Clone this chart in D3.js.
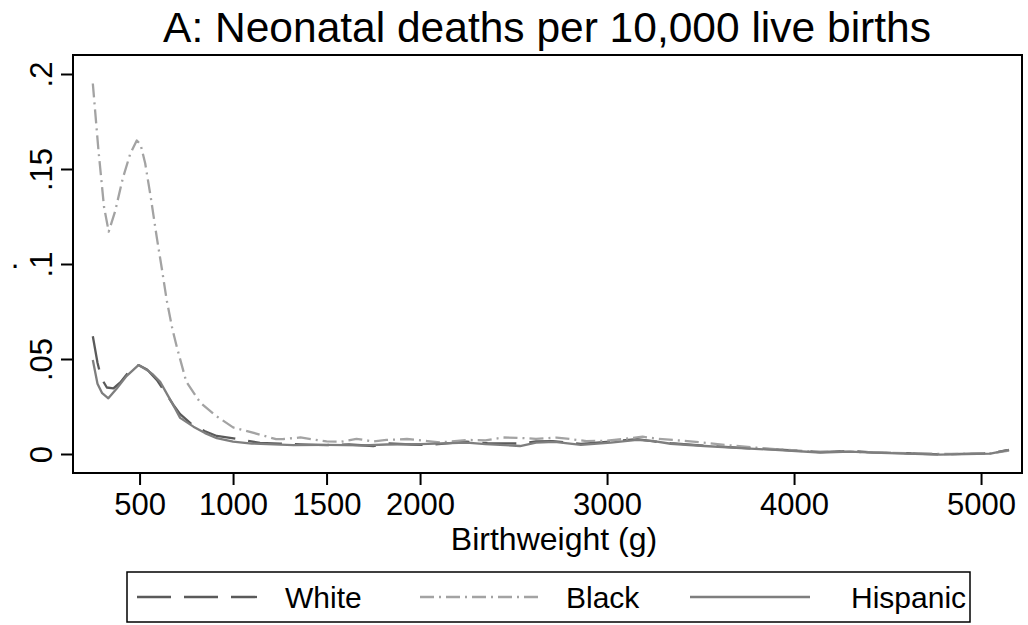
<!DOCTYPE html>
<html>
<head>
<meta charset="utf-8">
<script src="https://cdn.jsdelivr.net/npm/d3@7"></script>
<style>
  body { margin: 0; background: #fff; }
  svg { display: block; font-family: "Liberation Sans", Arial, sans-serif; }
</style>
</head>
<body>
<svg width="1028" height="625"></svg>
<script>
// birthweight (g) and neonatal death rate
const whiteBw = [250, 275, 295, 325, 360, 400, 440, 494, 540, 592, 640, 681, 717, 780, 850, 913, 966, 1050, 1144, 1250, 1360, 1500, 1620, 1750, 1820, 1950, 2050, 2250, 2360, 2530, 2620, 2710, 2860, 3020, 3160, 3250, 3340, 3520, 3765, 3900, 4140, 4300, 4420, 4600, 4780, 5050, 5140];
const whiteRate = [0.062, 0.048, 0.040, 0.035, 0.0345, 0.038, 0.043, 0.0468, 0.0445, 0.039, 0.032, 0.0258, 0.021, 0.0155, 0.012, 0.0095, 0.0088, 0.0075, 0.0058, 0.0055, 0.0051, 0.0047, 0.0050, 0.0042, 0.0056, 0.0050, 0.0048, 0.0065, 0.0057, 0.0055, 0.0066, 0.0068, 0.0053, 0.0065, 0.0078, 0.0066, 0.0057, 0.0044, 0.0030, 0.0024, 0.0010, 0.0016, 0.0009, 0.0004, -0.0002, 0.0004, 0.0020];

const blackBw = [250, 280, 310, 335, 370, 410, 450, 485, 505, 530, 560, 592, 620, 645, 675, 700, 750, 825, 910, 1000, 1090, 1150, 1230, 1270, 1360, 1500, 1580, 1660, 1750, 1820, 1930, 2040, 2110, 2250, 2350, 2445, 2520, 2620, 2730, 2800, 2890, 3000, 3100, 3190, 3270, 3430, 3640, 3800, 3900, 4100, 4300, 4500, 4800, 5050, 5150];
const blackRate = [0.195, 0.160, 0.130, 0.117, 0.128, 0.145, 0.158, 0.165, 0.163, 0.153, 0.135, 0.114, 0.097, 0.081, 0.066, 0.056, 0.038, 0.027, 0.020, 0.014, 0.0117, 0.010, 0.0078, 0.0079, 0.0087, 0.0066, 0.0065, 0.0080, 0.0066, 0.0074, 0.0079, 0.0068, 0.0061, 0.0074, 0.0072, 0.0087, 0.0085, 0.0080, 0.0086, 0.0079, 0.0068, 0.0070, 0.0080, 0.0091, 0.0080, 0.0068, 0.0047, 0.0033, 0.0026, 0.0012, 0.0012, 0.0006, 0.0000, 0.0003, 0.0018];

const hispBw = [250, 275, 300, 333, 378, 430, 494, 550, 574, 610, 650, 690, 717, 788, 850, 913, 1000, 1100, 1323, 1500, 1700, 1820, 2000, 2250, 2350, 2535, 2620, 2720, 2860, 3020, 3160, 3250, 3340, 3520, 3765, 3900, 4140, 4300, 4420, 4600, 4780, 5050, 5150];
const hispRate = [0.0495, 0.037, 0.032, 0.0293, 0.0345, 0.041, 0.0468, 0.0435, 0.0416, 0.038, 0.031, 0.024, 0.019, 0.0144, 0.011, 0.0083, 0.0065, 0.0055, 0.0047, 0.0048, 0.0045, 0.0050, 0.0052, 0.0060, 0.0052, 0.0042, 0.0060, 0.0064, 0.0048, 0.0060, 0.0074, 0.0068, 0.0054, 0.0042, 0.0028, 0.0022, 0.0008, 0.0012, 0.0007, 0.0002, -0.0003, 0.0002, 0.0022];

const xTicks = [500, 1000, 1500, 2000, 3000, 4000, 5000];
const yTicks = [0, 0.05, 0.1, 0.15, 0.2];
const yTickLabels = ["0", ".05", ".1", ".15", ".2"];

const series = [
    { name: "White", bw: whiteBw, rate: whiteRate, color: "#5a5a5a", dash: "34,13" },
    { name: "Black", bw: blackBw, rate: blackRate, color: "#a3a3a3", dash: "14,5,2,5" },
    { name: "Hispanic", bw: hispBw, rate: hispRate, color: "#7e7e7e", dash: null },
];

const svg = d3.select("svg");

// plot frame
const plotLeft = 73, plotRight = 1022, plotTop = 55, plotBottom = 473;
const x = d3.scaleLinear().domain([144, 5219]).range([plotLeft, plotRight]);
const y = d3.scaleLinear().domain([-0.01, 0.21]).range([plotBottom, plotTop]);

svg.append("rect")
    .attr("x", plotLeft).attr("y", plotTop)
    .attr("width", plotRight - plotLeft).attr("height", plotBottom - plotTop)
    .attr("fill", "none").attr("stroke", "#000").attr("stroke-width", 2);

// x axis
const xAxis = svg.append("g")
    .attr("transform", `translate(0,${plotBottom})`)
    .call(d3.axisBottom(x).tickValues(xTicks).tickSize(12).tickPadding(8).tickFormat(d3.format("d")));
xAxis.select(".domain").remove();
xAxis.selectAll("line").attr("stroke", "#000").attr("stroke-width", 2);
xAxis.selectAll("text").attr("font-size", 31).attr("fill", "#000")
    .attr("font-family", "Liberation Sans, Arial, sans-serif");

// y axis
const yAxis = svg.append("g")
    .attr("transform", `translate(${plotLeft},0)`)
    .call(d3.axisLeft(y).tickValues(yTicks).tickSize(12).tickFormat((d, i) => yTickLabels[i]));
yAxis.select(".domain").remove();
yAxis.selectAll("line").attr("stroke", "#000").attr("stroke-width", 2);
yAxis.selectAll("text")
    .attr("font-size", 31).attr("fill", "#000")
    .attr("font-family", "Liberation Sans, Arial, sans-serif")
    .attr("text-anchor", "middle")
    .attr("dy", null)
    .attr("x", null)
    .attr("transform", "translate(-21,0) rotate(-90)");

// lines
const line = d3.line().x(d => x(d[0])).y(d => y(d[1]));
series.forEach(s => {
    const pts = s.bw.map((b, i) => [b, s.rate[i]]);
    svg.append("path")
        .attr("d", line(pts))
        .attr("fill", "none")
        .attr("stroke", s.color)
        .attr("stroke-width", 2.3)
        .attr("stroke-linejoin", "round")
        .attr("stroke-dasharray", s.dash);
});

// titles
svg.append("text")
    .attr("x", 547).attr("y", 42)
    .attr("text-anchor", "middle")
    .attr("font-size", 42.5)
    .text("A: Neonatal deaths per 10,000 live births");

svg.append("text")
    .attr("x", 554).attr("y", 550)
    .attr("text-anchor", "middle")
    .attr("font-size", 32)
    .text("Birthweight (g)");

// y axis title is just a dot
svg.append("text")
    .attr("x", 15).attr("y", 268)
    .attr("text-anchor", "middle")
    .attr("font-size", 31)
    .text(".");

// legend
const legend = svg.append("g");
legend.append("rect")
    .attr("x", 127).attr("y", 572)
    .attr("width", 843).attr("height", 50)
    .attr("fill", "#fff").attr("stroke", "#000").attr("stroke-width", 1.5);

const legendLineX = [137, 420, 690];
const legendTextX = [285, 566, 851];
series.forEach((s, i) => {
    legend.append("line")
        .attr("x1", legendLineX[i]).attr("x2", legendLineX[i] + 120)
        .attr("y1", 597).attr("y2", 597)
        .attr("stroke", s.color).attr("stroke-width", 2.3)
        .attr("stroke-dasharray", s.dash);
    legend.append("text")
        .attr("x", legendTextX[i]).attr("y", 608)
        .attr("font-size", 30)
        .text(s.name);
});
</script>
</body>
</html>
